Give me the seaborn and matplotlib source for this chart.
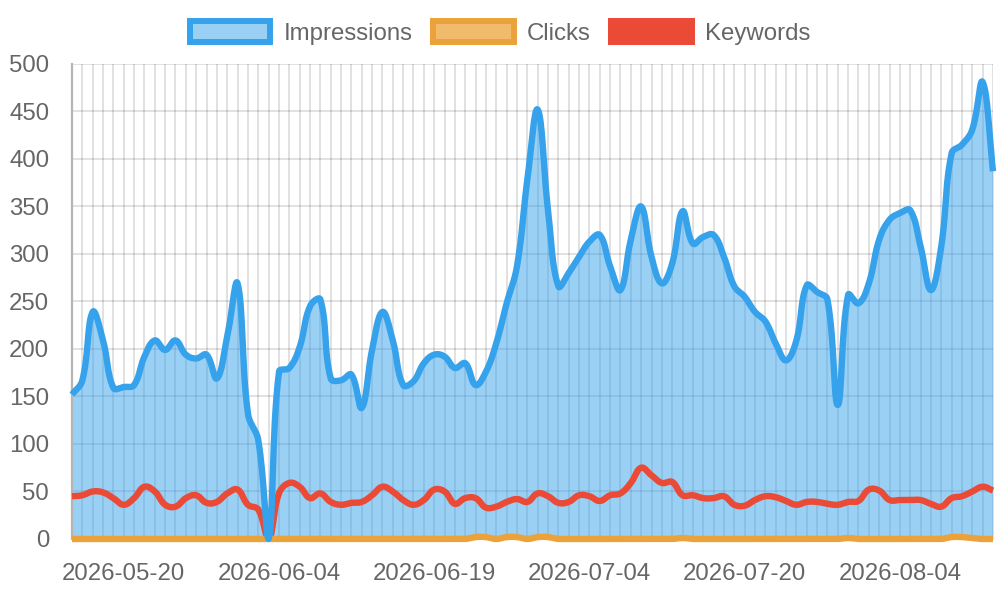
import numpy as np
import pandas as pd
import matplotlib.pyplot as plt
from matplotlib.patches import Patch
import seaborn as sns

# daily labels (the export skips 2026-07-12)
dates = [d.strftime("%Y-%m-%d") for d in pd.date_range("2026-05-15", "2026-08-13")
         if d.strftime("%m-%d") != "07-12"]

impressions = [152, 167, 239, 209, 159, 160, 162, 192, 209, 199,
               209, 194, 190, 194, 169, 213, 269, 132, 104, 0,
               176, 180, 202, 245, 252, 169, 167, 173, 138, 199,
               239, 209, 162, 166, 185, 194, 192, 180, 185, 162,
               176, 206, 248, 287, 378, 452, 346, 266, 280, 297,
               313, 320, 287, 262, 315, 350, 297, 269, 290, 345,
               311, 318, 320, 297, 266, 255, 239, 229, 206, 188,
               209, 267, 260, 252, 141, 257, 248, 269, 315, 336,
               343, 346, 308, 262, 308, 406, 415, 431, 481, 387]

clicks = [0, 0, 0, 0, 0, 0, 0, 0, 0, 0,
          0, 0, 0, 0, 0, 0, 0, 0, 0, 0,
          0, 0, 0, 0, 0, 0, 0, 0, 0, 0,
          0, 0, 0, 0, 0, 0, 0, 0, 0, 2,
          2, 0, 2, 2, 0, 2, 2, 0, 0, 0,
          0, 0, 0, 0, 0, 0, 0, 0, 0, 1,
          0, 0, 0, 0, 0, 0, 0, 0, 0, 0,
          0, 0, 0, 0, 0, 1, 0, 0, 0, 0,
          0, 0, 0, 0, 0, 2, 2, 1, 0, 0]

keywords = [45, 46, 50, 49, 43, 36, 43, 55, 50, 36,
            34, 43, 46, 38, 39, 48, 52, 36, 31, 0,
            48, 59, 55, 43, 48, 39, 36, 38, 39, 46,
            55, 50, 41, 36, 41, 52, 50, 37, 43, 43,
            33, 34, 39, 42, 39, 48, 45, 38, 39, 46,
            45, 40, 46, 48, 59, 75, 67, 59, 60, 46,
            46, 43, 43, 45, 36, 35, 41, 45, 44, 40,
            36, 39, 39, 37, 36, 39, 40, 52, 51, 41,
            41, 41, 41, 37, 34, 43, 45, 50, 55, 51]

series_names = ["Impressions", "Clicks", "Keywords"]
colors = {"Impressions": "#36A2EB", "Clicks": "#EBA23A", "Keywords": "#EA4A36"}
legend_fill = {"Impressions": "#9BD0F5", "Clicks": "#F0BB6C", "Keywords": "#EA4A36"}

W, H = 1000, 600
ax_rect = [0.072, 0.1017, 0.921, 0.7917]
YMAX = 500


def tension_curve(values, tension=0.4, steps=16):
    # chart.js style bezier through the points, computed in pixel space
    n = len(values)
    sx = ax_rect[2] * W / (n - 1)
    sy = ax_rect[3] * H / YMAX
    p = np.column_stack([np.arange(n) * sx, np.asarray(values, float) * sy])
    cp_prev = p.copy()
    cp_next = p.copy()
    for i in range(n):
        a = p[max(i - 1, 0)]
        b = p[i]
        c = p[min(i + 1, n - 1)]
        d01 = np.hypot(*(b - a))
        d12 = np.hypot(*(c - b))
        tot = d01 + d12
        s01 = d01 / tot if tot else 0
        s12 = d12 / tot if tot else 0
        cp_prev[i] = b - tension * s01 * (c - a)
        cp_next[i] = b + tension * s12 * (c - a)
    lo = np.array([0, 0])
    hi = np.array([(n - 1) * sx, YMAX * sy])
    cp_prev = np.clip(cp_prev, lo, hi)
    cp_next = np.clip(cp_next, lo, hi)
    t = np.linspace(0, 1, steps, endpoint=False)[:, None]
    segs = []
    for i in range(n - 1):
        P0, P1, P2, P3 = p[i], cp_next[i], cp_prev[i + 1], p[i + 1]
        segs.append((1 - t) ** 3 * P0 + 3 * (1 - t) ** 2 * t * P1
                    + 3 * (1 - t) * t ** 2 * P2 + t ** 3 * P3)
    segs.append(p[-1:])
    pts = np.vstack(segs)
    return pts[:, 0] / sx, pts[:, 1] / sy


sns.set_theme(style="white")
plt.rcParams["font.family"] = ["Liberation Sans", "DejaVu Sans"]
text_col = "#666666"
tick_col = "#E0E0E0"

fig = plt.figure(figsize=(10, 6), dpi=100)
ax = fig.add_axes(ax_rect)

curves = {}
for name, vals in zip(series_names, [impressions, clicks, keywords]):
    cx, cy = tension_curve(vals)
    curves[name] = pd.DataFrame({"x": cx, "y": cy, "series": name})

# area under impressions
imp = curves["Impressions"]
ax.fill_between(imp["x"], imp["y"], 0, color="#36A2EB", alpha=0.5, lw=0, zorder=1)

# lines: keywords first, impressions on top
for z, name in zip([3, 4, 5], ["Keywords", "Clicks", "Impressions"]):
    sns.lineplot(data=curves[name], x="x", y="y", ax=ax, color=colors[name],
                 linewidth=4.6, estimator=None, sort=False, legend=False,
                 zorder=z, clip_on=False, solid_joinstyle="round", solid_capstyle="butt")

ax.set_xlim(0, len(dates) - 1)
ax.set_ylim(0, YMAX)
ax.set_xlabel("")
ax.set_ylabel("")

ax.set_xticks(range(len(dates)))
ax.set_xticklabels([d if i % 15 == 5 else "" for i, d in enumerate(dates)])
ax.set_yticks(range(0, 501, 50))

ax.set_axisbelow(True)
ax.grid(True, color="black", alpha=0.12, linewidth=1.4)
ax.tick_params(axis="both", colors=tick_col, labelcolor=text_col, labelsize=17.3,
               length=14.4, width=1.4)
ax.tick_params(axis="y", pad=2)
ax.tick_params(axis="x", pad=3)
for side in ["top", "right", "bottom"]:
    ax.spines[side].set_visible(False)
ax.spines["left"].set_color("#B5B5B5")
ax.spines["left"].set_linewidth(1.6)

handles = [Patch(facecolor=legend_fill[n], edgecolor=colors[n], linewidth=4.3, label=n)
           for n in series_names]
fig.legend(handles=handles, loc="center", bbox_to_anchor=(0.5, 1 - 33 / H), ncol=3,
           frameon=False, fontsize=17.3, labelcolor=text_col, handlelength=3.35,
           handleheight=0.95, handletextpad=0.55, columnspacing=0.85)

fig.savefig("out.png", dpi=100)
